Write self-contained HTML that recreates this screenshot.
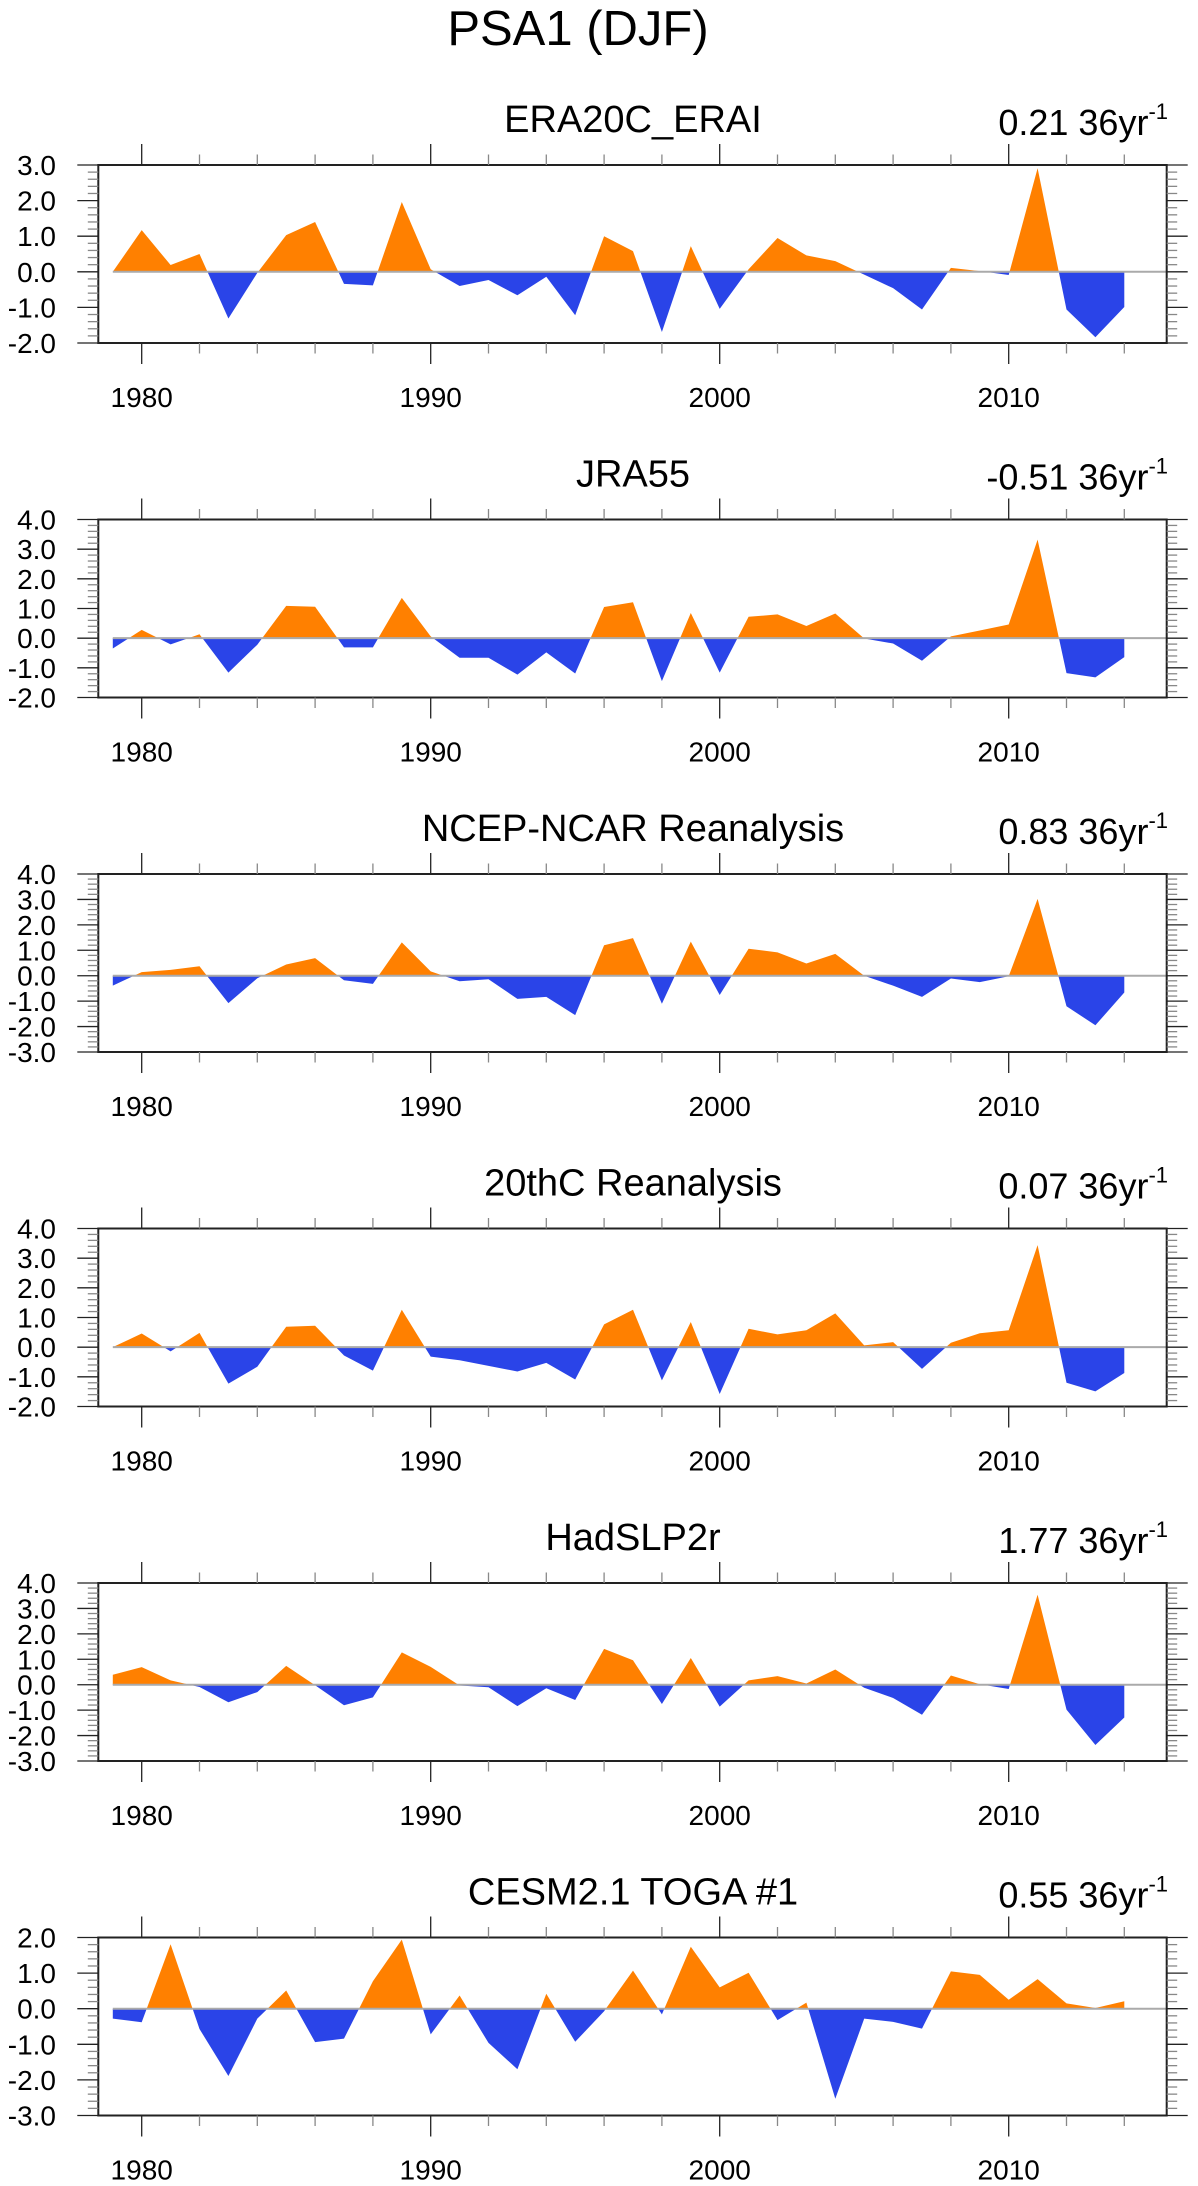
<!DOCTYPE html>
<html><head><meta charset="utf-8"><style>
html,body{margin:0;padding:0;background:#fff;}
svg{display:block;font-family:"Liberation Sans",Arial,sans-serif;}
</style></head><body>
<svg id="chart" width="1198" height="2186" viewBox="0 0 1198 2186" xmlns="http://www.w3.org/2000/svg">
<text x="578" y="45" font-size="49" text-anchor="middle">PSA1 (DJF)</text>
</svg>
<script>
const years = [];
for (let y = 1979; y <= 2014; y++) years.push(y);
const titles = ["ERA20C_ERAI","JRA55","NCEP-NCAR Reanalysis","20thC Reanalysis","HadSLP2r","CESM2.1 TOGA #1"];
const trends = ["0.21 36yr","-0.51 36yr","0.83 36yr","0.07 36yr","1.77 36yr","0.55 36yr"];
const yMaxs = [3,4,4,4,4,2];
const yMins = [-2,-2,-3,-2,-3,-3];
const sEra = [0,1.17,0.19,0.5,-1.31,-0.03,1.03,1.4,-0.34,-0.38,1.96,0.07,-0.4,-0.23,-0.66,-0.14,-1.22,1.0,0.58,-1.69,0.72,-1.04,0.07,0.95,0.46,0.3,-0.08,-0.46,-1.06,0.11,0.02,-0.09,2.91,-1.06,-1.84,-0.99];
const sJra = [-0.35,0.28,-0.21,0.13,-1.16,-0.22,1.09,1.06,-0.31,-0.31,1.36,0.06,-0.66,-0.66,-1.23,-0.48,-1.19,1.05,1.21,-1.45,0.85,-1.16,0.72,0.8,0.41,0.83,-0.01,-0.18,-0.76,0.06,0.26,0.46,3.32,-1.18,-1.32,-0.64];
const sNcep = [-0.39,0.14,0.23,0.37,-1.08,-0.1,0.44,0.69,-0.18,-0.32,1.31,0.17,-0.22,-0.14,-0.91,-0.83,-1.55,1.2,1.48,-1.1,1.34,-0.76,1.06,0.92,0.48,0.86,0.0,-0.39,-0.83,-0.11,-0.25,-0.02,3.02,-1.2,-1.95,-0.66];
const s20c = [0,0.46,-0.14,0.48,-1.23,-0.66,0.69,0.72,-0.28,-0.79,1.26,-0.32,-0.44,-0.63,-0.82,-0.53,-1.09,0.77,1.26,-1.12,0.85,-1.58,0.62,0.43,0.57,1.14,0.06,0.17,-0.73,0.15,0.47,0.57,3.44,-1.2,-1.49,-0.87];
const sHad = [0.39,0.69,0.17,-0.09,-0.69,-0.29,0.74,-0.02,-0.81,-0.5,1.27,0.7,-0.03,-0.1,-0.84,-0.14,-0.6,1.41,0.96,-0.76,1.05,-0.86,0.17,0.34,0.05,0.6,-0.12,-0.52,-1.18,0.36,0.02,-0.17,3.54,-0.98,-2.37,-1.29];
const sCesm = [-0.28,-0.38,1.81,-0.57,-1.89,-0.28,0.51,-0.94,-0.84,0.77,1.94,-0.72,0.37,-0.96,-1.7,0.42,-0.93,-0.07,1.07,-0.16,1.74,0.6,1.01,-0.32,0.17,-2.53,-0.28,-0.37,-0.56,1.05,0.95,0.25,0.83,0.15,0.02,0.21];
const seriesList = [sEra,sJra,sNcep,s20c,sHad,sCesm];
const xTickYears = [1980,1982,1984,1986,1988,1990,1992,1994,1996,1998,2000,2002,2004,2006,2008,2010,2012,2014];
const xLabels = ["1980","1990","2000","2010"];

const NS = "http://www.w3.org/2000/svg";
const svg = document.getElementById("chart");
const L = 98.3, R = 1166.7, H = 178;
function xOf(y){ return 141.7 + (y - 1980) * 28.9; }
function mk(tag, attrs, parent){ const e = document.createElementNS(NS, tag); for (const k in attrs) e.setAttribute(k, attrs[k]); parent.appendChild(e); return e; }

seriesList.forEach((vals, i) => {
  const top = 165 + i * 354.5, bot = top + H;
  const ymax = yMaxs[i], ymin = yMins[i];
  const yOf = v => top + (ymax - v) / (ymax - ymin) * H;
  const y0 = yOf(0);
  const g = mk("g", {}, svg);
  
  

  const t = mk("text", {x: 633, y: top - 33, "font-size": 38, "text-anchor": "middle"}, g);
  t.textContent = titles[i];
  
  
  const tr = mk("text", {x: 1168, y: top - 30, "font-size": 36, "text-anchor": "end"}, g);
  
  
  tr.appendChild(document.createTextNode(trends[i]));
  const sup = mk("tspan", {"font-size": 22, dy: -16}, tr);
  sup.textContent = "-1";

  // fills
  const cid = "c" + i;
  const defs = mk("defs", {}, g);
  const cpA = mk("clipPath", {id: cid + "a"}, defs);
  mk("rect", {x: L, y: top, width: R - L, height: y0 - top}, cpA);
  const cpB = mk("clipPath", {id: cid + "b"}, defs);
  mk("rect", {x: L, y: y0, width: R - L, height: bot - y0}, cpB);
  let d = "M" + xOf(years[0]) + "," + y0;
  vals.forEach((v, k) => { d += " L" + xOf(years[k]).toFixed(2) + "," + yOf(v).toFixed(2); });
  d += " L" + xOf(years[years.length - 1]) + "," + y0 + " Z";
  const pa = mk("path", {d: d, fill: "#ff8000", "clip-path": "url(#" + cid + "a)"}, g);
  
  
  const pb = mk("path", {d: d, fill: "#2a44e8", "clip-path": "url(#" + cid + "b)"}, g);
  
  
  const zl = mk("line", {x1: xOf(1979), x2: R, y1: y0, y2: y0, stroke: "#aaa", "stroke-width": 2}, g);
  
  

  // frame
  const fr = mk("rect", {x: L, y: top, width: R - L, height: H, fill: "none", stroke: "#222", "stroke-width": 2}, g);
  
  

  // x ticks
  xTickYears.forEach(yr => {
    const major = yr % 10 === 0;
    const x = xOf(yr), len = major ? 21 : 10.5;
    mk("line", {x1: x, x2: x, y1: top, y2: top - len, stroke: major ? "#222" : "#888", "stroke-width": 1.3}, g);
    mk("line", {x1: x, x2: x, y1: bot, y2: bot + len, stroke: major ? "#222" : "#888", "stroke-width": 1.3}, g);
  });
  xLabels.forEach(lab => {
    const tx = mk("text", {x: xOf(+lab), y: bot + 64, "font-size": 28, "text-anchor": "middle"}, g);
    tx.textContent = lab;
    
    
  });
  // y ticks
  for (let v = ymin; v <= ymax + 1e-6; v += 0.2) {
    const vv = Math.round(v * 10) / 10;
    const major = Math.abs(vv - Math.round(vv)) < 1e-6;
    const y = yOf(vv), len = major ? 21 : 10.5;
    mk("line", {x1: L, x2: L - len, y1: y, y2: y, stroke: major ? "#222" : "#888", "stroke-width": 1.3}, g);
    mk("line", {x1: R, x2: R + len, y1: y, y2: y, stroke: major ? "#222" : "#888", "stroke-width": 1.3}, g);
    if (major) {
      const ty = mk("text", {x: 56, y: y + 10, "font-size": 28, "text-anchor": "end"}, g);
      ty.textContent = vv.toFixed(1);
      
      
    }
  }
});
</script>
</body></html>
